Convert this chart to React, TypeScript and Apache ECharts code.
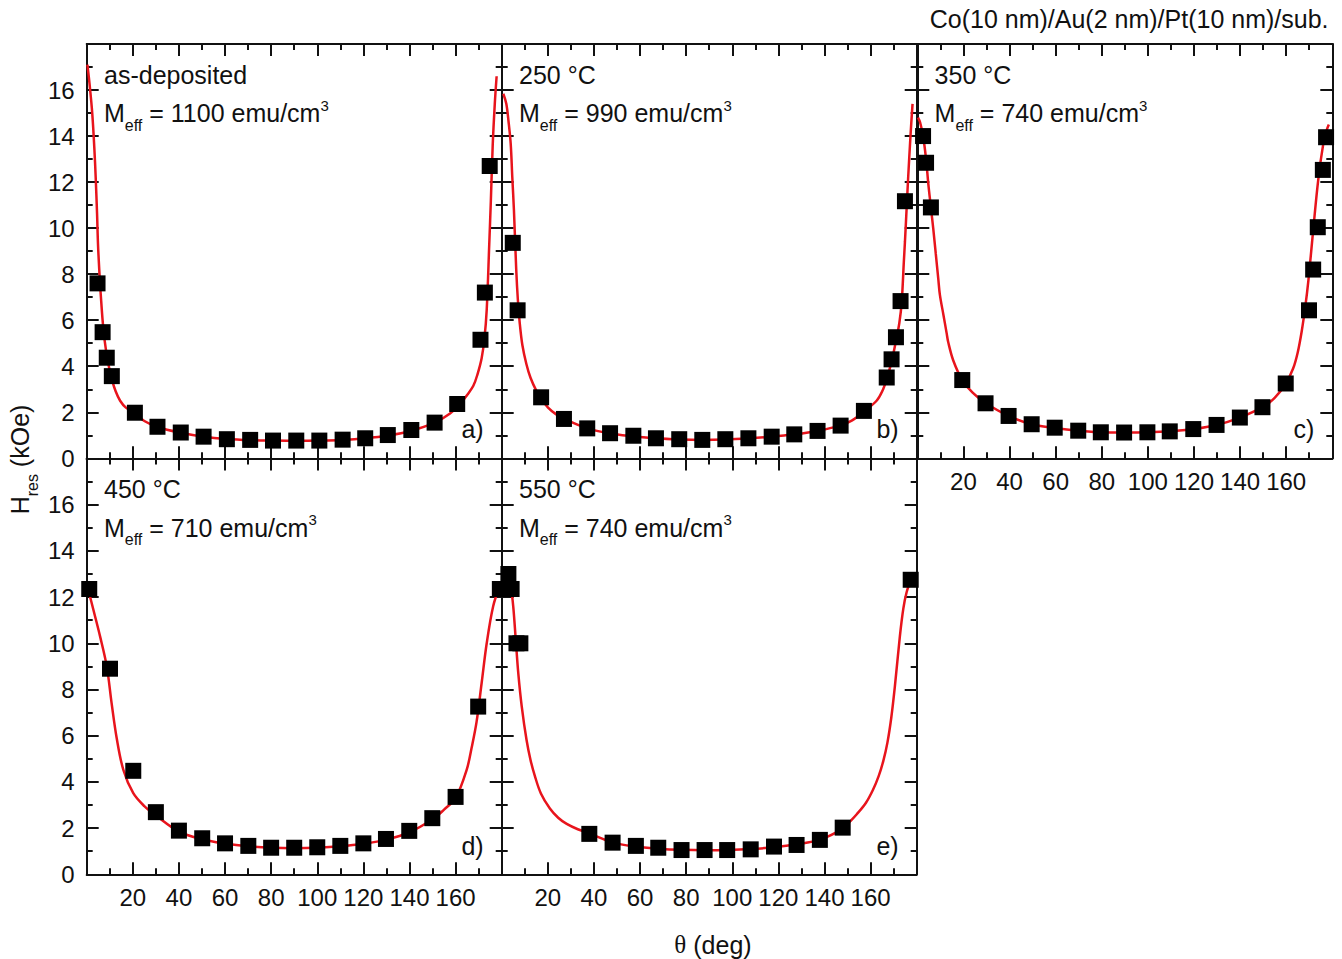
import React, { useEffect, useRef } from 'react';
import * as echarts from 'echarts';

// ---------- data (theta in deg, H_res in kOe) ----------
const panelTags = ['a)', 'b)', 'c)', 'd)', 'e)'];
const conditions = ['as-deposited', '250 °C', '350 °C', '450 °C', '550 °C'];
const meffValues = [1100, 990, 740, 710, 740];

const xTickValues = [20, 40, 60, 80, 100, 120, 140, 160];
const yTickValues = [0, 2, 4, 6, 8, 10, 12, 14, 16];

const pointsA = [[4.7,7.6],[6.9,5.48],[8.7,4.37],[10.9,3.57],[20.9,1.98],[30.7,1.37],[40.8,1.12],[50.7,0.94],[60.8,0.83],[70.9,0.8],[80.8,0.77],[90.9,0.77],[100.9,0.77],[111,0.81],[120.8,0.87],[130.6,1.01],[140.8,1.23],[150.9,1.55],[160.7,2.36],[170.8,5.15],[172.7,7.2],[174.8,12.7]];
const fitA = [[0.3,17.1],[1.2,16.3],[2.4,15.0],[3.3,13.5],[3.9,12.2],[4.5,10.6],[4.9,9.3],[5.5,8.1],[6.1,7.1],[7.2,5.65],[8.5,4.6],[9.7,3.95],[11,3.4],[12.6,2.9],[14.5,2.5],[17,2.2],[20.9,1.95],[25,1.62],[30.7,1.36],[40.8,1.11],[50.7,0.94],[60.8,0.84],[70.9,0.79],[80.8,0.77],[90.9,0.76],[100.9,0.77],[111,0.8],[120.8,0.87],[130.6,0.99],[140.8,1.2],[150.9,1.55],[157.6,1.95],[161.9,2.35],[165,2.75],[167.7,3.15],[169.5,3.65],[171.3,4.35],[172.5,5.2],[173.5,6.45],[174.6,9.3],[175.3,11.2],[176.1,13.6],[177,15.4],[177.8,16.6]];

const pointsB = [[4.8,9.36],[6.9,6.43],[17.1,2.65],[27,1.71],[37.1,1.3],[47,1.09],[57.1,0.98],[66.9,0.87],[77,0.83],[87,0.8],[97,0.83],[107,0.87],[117.1,0.94],[126.9,1.04],[137,1.19],[147,1.42],[157.1,2.06],[167,3.51],[169.1,4.3],[171,5.26],[173,6.83],[174.9,11.17]];
const fitB = [[0.7,15.84],[2.0,15.4],[3.0,14.6],[3.9,13.67],[4.6,12.2],[5.3,10.8],[6.3,8.2],[7.0,6.9],[7.8,5.9],[9,4.9],[10.7,4.1],[12.5,3.5],[15,2.94],[17.1,2.6],[20.1,2.2],[23.5,1.92],[27,1.72],[37.1,1.3],[47,1.08],[57.1,0.96],[66.9,0.87],[77,0.82],[87,0.8],[97,0.82],[107,0.87],[117.1,0.94],[126.9,1.04],[137,1.19],[147,1.43],[152,1.65],[157.1,2.03],[162.6,2.5],[165,2.9],[167,3.45],[169.1,4.2],[171,5.1],[172.5,5.9],[173.5,6.8],[174.4,8.5],[174.9,9.4],[175.6,10.8],[176.3,12.2],[177.3,14.0],[178.2,15.4]];

const pointsC = [[2.5,14.0],[3.8,12.84],[5.9,10.9],[19.5,3.4],[29.6,2.39],[39.6,1.84],[49.6,1.48],[59.6,1.33],[69.8,1.2],[79.6,1.13],[89.7,1.12],[99.8,1.13],[109.5,1.17],[119.7,1.27],[129.8,1.45],[139.9,1.77],[149.7,2.22],[159.8,3.25],[169.9,6.43],[171.7,8.2],[173.7,10.04],[175.9,12.53],[177.3,13.95]];
const fitC = [[0.3,14.8],[1.2,14.6],[2.5,14.0],[3.8,13.0],[4.8,11.9],[5.9,10.9],[6.9,10.0],[8,8.9],[9.1,7.8],[9.8,7.1],[11.3,6.25],[12.7,5.45],[13.4,5.05],[15.6,4.25],[19.5,3.4],[24,2.85],[29.6,2.4],[39.6,1.84],[49.6,1.48],[59.6,1.32],[69.8,1.2],[79.6,1.13],[89.7,1.12],[99.8,1.13],[109.5,1.17],[119.7,1.27],[129.8,1.45],[139.9,1.77],[149.7,2.22],[155,2.62],[159.8,3.25],[163,3.9],[165,4.6],[166.7,5.5],[168.3,6.6],[169.6,7.7],[171.7,9.9],[173.9,12.1],[176.1,13.67],[177.5,14.24],[178.5,14.5]];

const pointsD = [[1.1,12.35],[10.1,8.9],[20.2,4.48],[30,2.69],[40,1.89],[50.1,1.56],[60,1.34],[70.1,1.23],[80,1.15],[90,1.15],[100,1.17],[110,1.23],[120,1.34],[129.8,1.53],[139.9,1.88],[149.9,2.43],[160,3.35],[169.8,7.26],[179.2,12.35]];
const fitD = [[0.5,12.4],[2.9,11.45],[5.8,10.3],[8.7,9.0],[10.8,7.41],[13,5.9],[15.9,4.52],[20.2,3.51],[25,2.95],[30,2.55],[40,1.85],[50,1.52],[60,1.33],[70,1.21],[80,1.15],[90,1.13],[100,1.15],[110,1.21],[120,1.32],[130,1.5],[140,1.82],[150,2.38],[155,2.8],[160,3.3],[164.8,4.52],[167,5.5],[169.1,6.6],[171.3,8.28],[173.5,10.0],[176.3,11.6],[179.2,12.5]];

const pointsE = [[2.9,13.0],[4.3,12.35],[6.4,10.0],[8.1,10.0],[38,1.75],[48.1,1.37],[58.2,1.23],[67.9,1.15],[78,1.05],[88,1.05],[97.8,1.05],[108,1.08],[118.1,1.2],[127.9,1.27],[138,1.49],[147.9,2.02],[177.4,12.75]];
const fitE = [[0.5,12.9],[2.5,12.95],[4.0,12.4],[5.0,11.6],[6.1,10.15],[7.2,8.7],[8.7,7.26],[10.8,5.8],[12.5,4.95],[14.4,4.25],[17,3.5],[20.9,2.85],[24.5,2.45],[28.2,2.18],[33,1.95],[38,1.77],[48,1.38],[58,1.2],[68,1.11],[78,1.06],[88,1.04],[98,1.05],[108,1.09],[118,1.17],[128,1.3],[138,1.5],[148,1.98],[151,2.28],[154,2.6],[158,3.1],[161,3.65],[163.5,4.25],[165.5,4.9],[167.3,5.7],[169,6.8],[170.5,8.1],[172.7,10.3],[174.2,11.5],[175.6,12.2],[178,12.9]];

const allPoints = [pointsA, pointsB, pointsC, pointsD, pointsE];
const allFits = [fitA, fitB, fitC, fitD, fitE];

// ---------- layout ----------
const FONT = "'Liberation Sans', Arial, sans-serif";
const SERIF = "'Liberation Serif', 'Times New Roman', serif";
const INK = '#111';
const RED = '#e8141c';
const colLeft = [86.7, 501.7, 917.3];
const colW = 415;
const rowTop = [44, 458.5];
const rowH = [414.3, 415.8];
const cells = [[0, 0], [0, 1], [0, 2], [1, 0], [1, 1]];
const xLabelPanels = [2, 3, 4];
const yLabelPanels = [0, 3];

function xAxisFor(i: number, position: string, showLabel: boolean) {
  return {
    type: 'value', gridIndex: i, position, min: 0, max: 180, interval: 20,
    axisLine: { show: true, onZero: false, lineStyle: { color: INK, width: 2 } },
    axisTick: { show: true, inside: true, length: 12, lineStyle: { color: INK, width: 2 } },
    minorTick: { show: true, splitNumber: 2, length: 6, lineStyle: { color: INK, width: 2 } },
    splitLine: { show: false }, minorSplitLine: { show: false },
    axisLabel: {
      show: showLabel, fontSize: 24, color: INK, fontFamily: FONT, margin: 11,
      formatter: (v: number) => (xTickValues.includes(v) ? String(v) : ''),
    },
  };
}
function yAxisFor(i: number, position: string, showLabel: boolean) {
  return {
    type: 'value', gridIndex: i, position, min: 0, max: 18, interval: 2,
    axisLine: { show: true, onZero: false, lineStyle: { color: INK, width: 2 } },
    axisTick: { show: true, inside: true, length: 12, lineStyle: { color: INK, width: 2 } },
    minorTick: { show: true, splitNumber: 2, length: 6, lineStyle: { color: INK, width: 2 } },
    splitLine: { show: false }, minorSplitLine: { show: false },
    axisLabel: {
      show: showLabel, fontSize: 24, color: INK, fontFamily: FONT, margin: 12,
      formatter: (v: number) => (yTickValues.includes(v) ? String(v) : ''),
    },
  };
}

function buildOption() {
  const grid: any[] = [];
  const xAxis: any[] = [];
  const yAxis: any[] = [];
  const series: any[] = [];
  const graphic: any[] = [];
  const richMeff = {
    m: { fontSize: 25, fontFamily: FONT, fill: INK, lineHeight: 40 },
    s: { fontSize: 16, fontFamily: FONT, fill: INK, lineHeight: 40, verticalAlign: 'bottom', height: 16 },
    p: { fontSize: 15, fontFamily: FONT, fill: INK, lineHeight: 40, verticalAlign: 'top', height: 24 },
  };
  cells.forEach(([r, c], i) => {
    const left = colLeft[c];
    const top = rowTop[r];
    grid.push({ left, top, width: colW, height: rowH[r], outerBoundsMode: 'none', containLabel: false });
    xAxis.push(xAxisFor(i, 'bottom', xLabelPanels.includes(i)));
    xAxis.push(xAxisFor(i, 'top', false));
    yAxis.push(yAxisFor(i, 'left', yLabelPanels.includes(i)));
    yAxis.push(yAxisFor(i, 'right', false));
    series.push({
      type: 'line', xAxisIndex: 2 * i, yAxisIndex: 2 * i, data: allFits[i],
      showSymbol: false, symbol: 'none', smooth: 0.35, z: 2,
      lineStyle: { color: RED, width: 2.5 },
    });
    series.push({
      type: 'scatter', xAxisIndex: 2 * i, yAxisIndex: 2 * i, data: allPoints[i],
      symbol: 'rect', symbolSize: 16, clip: false, z: 3,
      itemStyle: { color: '#000', opacity: 1 },
    });
    const tx = left + 17.3;
    graphic.push({
      type: 'text', x: tx, y: top + 30.6,
      style: { text: conditions[i], fontSize: 25, fontFamily: FONT, fill: INK, align: 'left', verticalAlign: 'middle' },
    });
    graphic.push({
      type: 'text', x: tx, y: top + 69,
      style: {
        text: `{m|M}{s|eff}{m| = ${meffValues[i]} emu/cm}{p|3}`,
        rich: richMeff, align: 'left', verticalAlign: 'middle',
      },
    });
    graphic.push({
      type: 'text', x: left + colW - 18, y: top + (r === 0 ? 384.5 : 387.5),
      style: { text: panelTags[i], fontSize: 25, fontFamily: FONT, fill: INK, align: 'right', verticalAlign: 'middle' },
    });
  });
  graphic.push({
    type: 'text', x: 1328.5, y: 18.6,
    style: { text: 'Co(10 nm)/Au(2 nm)/Pt(10 nm)/sub.', fontSize: 25, fontFamily: FONT, fill: INK, align: 'right', verticalAlign: 'middle' },
  });
  graphic.push({
    type: 'text', x: 20.3, y: 459.5, rotation: Math.PI / 2,
    style: { text: '{m|H}{s|res}{m| (kOe)}', rich: richMeff, align: 'center', verticalAlign: 'middle' },
  });
  graphic.push({
    type: 'text', x: 713, y: 944.6,
    style: {
      text: '{t|θ}{m| (deg)}',
      rich: {
        t: { fontSize: 25, fontFamily: SERIF, fill: INK, lineHeight: 30 },
        m: { fontSize: 25, fontFamily: FONT, fill: INK, lineHeight: 30 },
      },
      align: 'center', verticalAlign: 'middle',
    },
  });
  return { animation: false, backgroundColor: '#fff', grid, xAxis, yAxis, series, graphic };
}

export default function App() {
  const ref = useRef<HTMLDivElement>(null);
  useEffect(() => {
    const chart = echarts.init(ref.current!, null, { renderer: 'svg' });
    chart.setOption(buildOption() as any);
    return () => chart.dispose();
  }, []);
  return (
    <div
      ref={ref}
      style={{ position: 'absolute', left: 0, top: 0, width: 1342, height: 959, background: '#fff' }}
    />
  );
}
